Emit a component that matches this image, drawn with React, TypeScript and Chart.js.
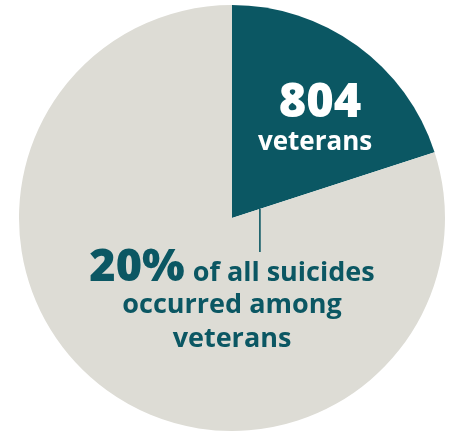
import React, { useEffect, useRef } from "react";
import { Chart, registerables } from "chart.js";

Chart.register(...registerables);

const categories = ["Veterans", "Non-veterans"];
const values = [804, 3216];
const colors = ["#0b5763", "#dddcd5"];
const bigNumberLabel = "804";
const bigNumberSub = "veterans";
const shareLabel = "20%";
const shareLines = ["of all suicides", "occurred among", "veterans"];

const FONT = "'Open Sans', 'Noto Sans', sans-serif";

const annotationPlugin = {
  id: "annotations",
  afterDatasetsDraw(chart: any) {
    const arc = chart.getDatasetMeta(0).data[0];
    if (!arc) return;
    const { x: cx, y: cy, outerRadius: r, endAngle } = arc.getProps(["x", "y", "outerRadius", "endAngle"], true);
    const ctx = chart.ctx as CanvasRenderingContext2D;
    ctx.save();
    ctx.textAlign = "center";
    ctx.textBaseline = "alphabetic";
    // inside slice labels
    ctx.fillStyle = "#ffffff";
    ctx.font = `800 47px ${FONT}`;
    ctx.fillText(bigNumberLabel, cx + 0.413 * r, cy - 0.474 * r);
    ctx.font = `700 26px ${FONT}`;
    ctx.fillText(bigNumberSub, cx + 0.39 * r, cy - 0.32 * r);

    // leader line from slice edge downward
    const lx = cx + 0.131 * r;
    const edgeY = cy + Math.tan(endAngle) * (lx - cx);
    ctx.strokeStyle = colors[0];
    ctx.lineWidth = 1.6;
    ctx.beginPath();
    ctx.moveTo(lx, edgeY);
    ctx.lineTo(lx, cy + 0.16 * r);
    ctx.stroke();

    // outside label text
    ctx.fillStyle = colors[0];
    const bigFont = `800 45px ${FONT}`;
    const smallFont = `700 27px ${FONT}`;
    ctx.font = bigFont;
    const w1 = ctx.measureText(shareLabel).width;
    ctx.font = smallFont;
    const gap = 8;
    const w2 = ctx.measureText(shareLines[0]).width;
    const total = w1 + gap + w2;
    const startX = cx - total / 2;
    const y1 = cy + 0.296 * r;
    ctx.textAlign = "left";
    ctx.font = bigFont;
    ctx.fillText(shareLabel, startX, y1);
    ctx.font = smallFont;
    ctx.fillText(shareLines[0], startX + w1 + gap, y1);
    ctx.textAlign = "center";
    ctx.fillText(shareLines[1], cx, cy + 0.446 * r);
    ctx.fillText(shareLines[2], cx, cy + 0.606 * r);
    ctx.restore();
  },
};

export default function App() {
  const ref = useRef<HTMLCanvasElement>(null);
  useEffect(() => {
    document.body.style.margin = "0";
    const chart = new Chart(ref.current!, {
      type: "pie",
      data: {
        labels: categories,
        datasets: [
          {
            data: values,
            backgroundColor: colors,
            borderWidth: 0,
          },
        ],
      },
      options: {
        responsive: false,
        animation: false,
        layout: { padding: { left: 19, right: 9, top: 5, bottom: 1 } },
        plugins: {
          legend: { display: false },
          tooltip: { enabled: false },
        },
      },
      plugins: [annotationPlugin],
    });
    return () => chart.destroy();
  }, []);
  return (
    <div style={{ width: 454, height: 432, background: "#ffffff" }}>
      <canvas ref={ref} width={454} height={432} />
    </div>
  );
}
